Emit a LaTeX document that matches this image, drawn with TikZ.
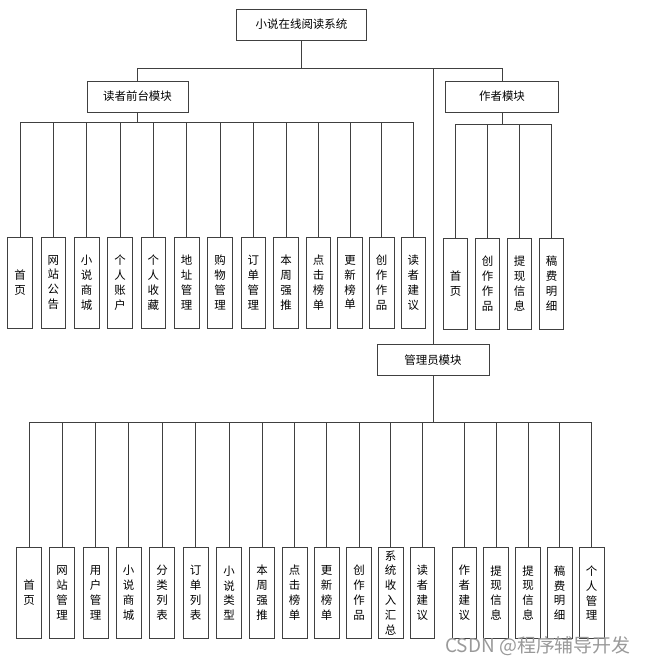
\documentclass[tikz,border=0pt]{standalone}
\usepackage{fontspec}
\setmainfont{Noto Sans CJK SC}
\usetikzlibrary{calc}
\tikzset{
  box/.style={draw=black!75, line width=0.8bp, fill=white, inner sep=0pt,
    font=\fontsize{11.5}{15}\selectfont},
  modbox/.style={box, minimum height=31bp},
  leaf/.style={box, minimum width=24.5bp, minimum height=91bp, align=center},
  link/.style={draw=black!75, line width=0.8bp},
}
\begin{document}
\begin{tikzpicture}[x=1bp,y=-1bp]
      \useasboundingbox (0,0) rectangle (649,664);
      % top and module boxes
      \node[modbox, minimum width=130bp] (sys) at (301.5,24.5) {小说在线阅读系统};
      \node[modbox, minimum width=101bp] (reader) at (137.5,96.5) {读者前台模块};
      \node[modbox, minimum width=113bp] (author) at (502,96.5) {作者模块};
      \node[modbox, minimum width=112bp] (admin) at (433,360) {管理员模块};
      \coordinate (bus) at (0,68.5);
      \draw[link] (sys.south) -- (sys.south |- bus) coordinate (split);
      \draw[link] (reader.north) |- (split) -| (author.north);
      \draw[link] (admin.north) -- (admin.north |- bus);

      % reader leaves
      \coordinate (rbus) at (0,122);
      \foreach \x/\t [count=\i] in {20/{首\\页},53.3/{网\\站\\公\\告},86.7/{小\\说\\商\\城},
          120/{个\\人\\账\\户},153.3/{个\\人\\收\\藏},186.7/{地\\址\\管\\理},
          220/{购\\物\\管\\理},253.3/{订\\单\\管\\理},286/{本\\周\\强\\推},
          318.5/{点\\击\\榜\\单},350/{更\\新\\榜\\单},381.7/{创\\作\\作\\品},
          413.3/{读\\者\\建\\议}}{
        \node[leaf] (r\i) at (\x,282.5) {\t};
        \draw[link] (r\i.north) -- (r\i.north |- rbus);
      }
      \draw[link] (r1.north |- rbus) -- (r13.north |- rbus);
      \draw[link] (reader.south) -- (reader.south |- rbus);

      % author leaves
      \coordinate (abus) at (0,124);
      \foreach \x/\t [count=\i] in {455.5/{首\\页},487.5/{创\\作\\作\\品},
          519.5/{提\\现\\信\\息},551.5/{稿\\费\\明\\细}}{
        \node[leaf] (a\i) at (\x,283.5) {\t};
        \draw[link] (a\i.north) -- (a\i.north |- abus);
      }
      \draw[link] (a1.north |- abus) -- (a4.north |- abus);
      \draw[link] (author.south) -- (author.south |- abus);

      % admin leaves
      \coordinate (mbus) at (0,422);
      \foreach \x/\t [count=\i] in {29/{首\\页},62/{网\\站\\管\\理},95.7/{用\\户\\管\\理},
          128.7/{小\\说\\商\\城},162/{分\\类\\列\\表},195.7/{订\\单\\列\\表},
          229/{小\\说\\类\\型},262/{本\\周\\强\\推},294.7/{点\\击\\榜\\单},
          326.7/{更\\新\\榜\\单},359/{创\\作\\作\\品},390.7/{系\\统\\收\\入\\汇\\总},
          422.3/{读\\者\\建\\议},464.3/{作\\者\\建\\议},496/{提\\现\\信\\息},
          528/{提\\现\\信\\息},559.7/{稿\\费\\明\\细},591.7/{个\\人\\管\\理}}{
        \node[leaf] (m\i) at (\x,593) {\t};
        \draw[link] (m\i.north) -- (m\i.north |- mbus);
      }
      \draw[link] (m1.north |- mbus) -- (m18.north |- mbus);
      \draw[link] (admin.south) -- (admin.south |- mbus);

      \node[text=black!40, font=\fontsize{19}{19}\selectfont, inner sep=0pt] (mark) at (538,646.5) {CSDN @程序辅导开发};
    \end{tikzpicture}
\end{document}
